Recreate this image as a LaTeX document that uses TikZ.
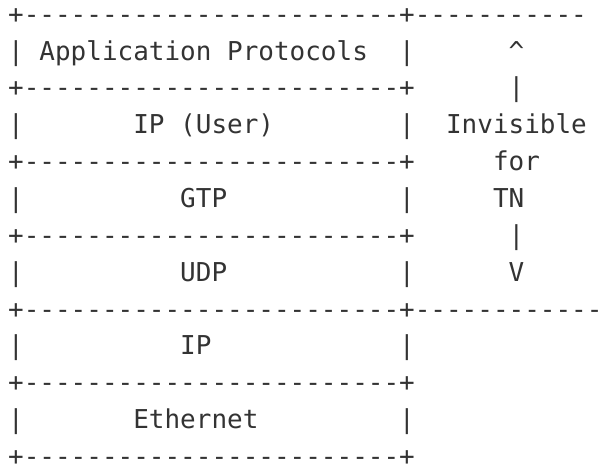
\documentclass[tikz,border=0pt]{standalone}
\usepackage{fontspec}
\setmonofont{DejaVu Sans Mono}
\definecolor{ink}{HTML}{333333}
\tikzset{
  txt/.style={anchor=base west, inner sep=0pt, outer sep=0pt,
    font=\ttfamily\fontsize{25.98}{30}\selectfont, text=ink}
}
% \cell{name}{row}{column}{text}
\newcommand\cell[4]{\node[txt] (#1) at ({8.18+15.64*#3},{466-23.2-36.85*(#2-1)}) {#4};}
\begin{document}
\begin{tikzpicture}[x=1pt,y=1pt]
\useasboundingbox (0,0) rectangle (599,466);
% row 1
\cell{r1}{1}{0}{+------------------------+-----------}
% row 2
\cell{r2a}{2}{0}{|}
\cell{r2b}{2}{2}{Application Protocols}
\cell{r2c}{2}{25}{|}
\cell{r2d}{2}{32}{\textasciicircum}
% row 3
\cell{r3}{3}{0}{+------------------------+}
\cell{r3b}{3}{32}{|}
% row 4
\cell{r4a}{4}{0}{|}
\cell{r4b}{4}{8}{IP (User)}
\cell{r4c}{4}{25}{|}
\cell{r4d}{4}{28}{Invisible}
% row 5
\cell{r5}{5}{0}{+------------------------+}
\cell{r5b}{5}{31}{for}
% row 6
\cell{r6a}{6}{0}{|}
\cell{r6b}{6}{11}{GTP}
\cell{r6c}{6}{25}{|}
\cell{r6d}{6}{31}{TN}
% row 7
\cell{r7}{7}{0}{+------------------------+}
\cell{r7b}{7}{32}{|}
% row 8
\cell{r8a}{8}{0}{|}
\cell{r8b}{8}{11}{UDP}
\cell{r8c}{8}{25}{|}
\cell{r8d}{8}{32}{V}
% row 9
\cell{r9}{9}{0}{+------------------------+------------}
% row 10
\cell{r10a}{10}{0}{|}
\cell{r10b}{10}{11}{IP}
\cell{r10c}{10}{25}{|}
% row 11
\cell{r11}{11}{0}{+------------------------+}
% row 12
\cell{r12a}{12}{0}{|}
\cell{r12b}{12}{8}{Ethernet}
\cell{r12c}{12}{25}{|}
% row 13
\cell{r13}{13}{0}{+------------------------+}
\end{tikzpicture}
\end{document}
